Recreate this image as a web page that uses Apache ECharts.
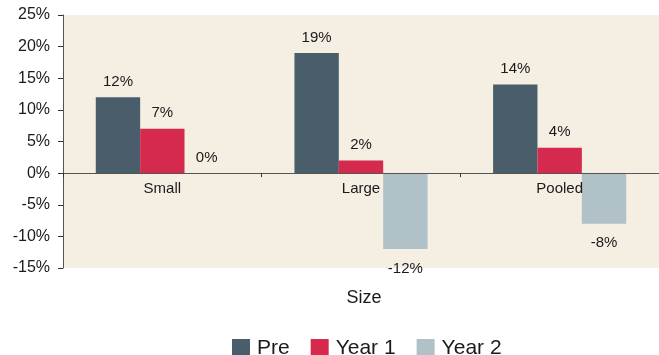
<!DOCTYPE html>
<html>
<head>
<meta charset="utf-8">
<script src="https://cdn.jsdelivr.net/npm/echarts@6/dist/echarts.min.js"></script>
<style>
html, body { margin: 0; padding: 0; background: #ffffff; }
#chart { width: 659px; height: 355px; }
</style>
</head>
<body>
<div id="chart"></div>
<script>
// Percentage change by firm size
const categories = ['Small', 'Large', 'Pooled'];
const seriesNames = ['Pre', 'Year 1', 'Year 2'];
const preValues = [12, 19, 14];
const year1Values = [7, 2, 4];
const year2Values = [0, -12, -8];
const yTicks = [-15, -10, -5, 0, 5, 10, 15, 20, 25];

const colors = ['#4a5d6b', '#d5294e', '#b0c1c8'];
const font = '"Liberation Sans", Arial, Helvetica, sans-serif';

// Plot box in pixels
const gridTop = 15;
const gridBottom = 87;
const plotHeight = 355 - gridTop - gridBottom;
const yMin = yTicks[0];
const yMax = yTicks[yTicks.length - 1];
// Distance from the bottom edge of the plot up to the zero line
const zeroOffset = plotHeight * (0 - yMin) / (yMax - yMin);

// Negative bars carry their value label underneath, others on top
function withLabels(values) {
  return values.map(v => ({
    value: v,
    label: v < 0 ? { position: 'bottom', distance: 12 } : { position: 'top', distance: 8 }
  }));
}

function barSeries(name, values, color) {
  return {
    name: name,
    type: 'bar',
    data: withLabels(values),
    itemStyle: { color: color },
    barGap: '0%',
    barCategoryGap: '33%',
    label: {
      show: true,
      formatter: '{c}%',
      color: '#1a1a1a',
      fontFamily: font,
      fontSize: 15
    }
  };
}

const chart = echarts.init(document.getElementById('chart'), null, { renderer: 'canvas' });
chart.setOption({
  animation: false,
  color: colors,
  grid: {
    left: 63, right: 0, top: gridTop, bottom: gridBottom,
    show: true, backgroundColor: '#f5eee3', borderWidth: 0
  },
  xAxis: {
    type: 'category',
    data: categories,
    position: 'bottom',
    offset: -zeroOffset,
    axisLine: { onZero: false, lineStyle: { color: '#555555', width: 1 } },
    axisTick: { show: true, inside: false, length: 4, lineStyle: { color: '#333333' } },
    axisLabel: { margin: 8, color: '#1a1a1a', fontFamily: font, fontSize: 15 },
    splitLine: { show: false },
    z: 3
  },
  yAxis: {
    type: 'value',
    min: yMin,
    max: yMax,
    interval: 5,
    axisLine: { show: true, lineStyle: { color: '#555555', width: 1 } },
    axisTick: { show: true, length: 5, lineStyle: { color: '#333333' } },
    axisLabel: {
      margin: 13, color: '#1a1a1a', fontFamily: font, fontSize: 16,
      formatter: v => v + '%'
    },
    splitLine: { show: false }
  },
  legend: {
    data: seriesNames,
    top: 333,
    left: 227,
    itemWidth: 18,
    itemHeight: 19,
    itemGap: 21,
    icon: 'rect',
    textStyle: { color: '#1a1a1a', fontFamily: font, fontSize: 21, padding: [0, 0, 0, 2] }
  },
  graphic: [{
    type: 'text',
    x: 364,
    y: 298,
    style: {
      text: 'Size',
      fill: '#1a1a1a',
      font: '18px ' + font,
      textAlign: 'center',
      textVerticalAlign: 'middle'
    }
  }],
  series: [
    barSeries(seriesNames[0], preValues, colors[0]),
    barSeries(seriesNames[1], year1Values, colors[1]),
    barSeries(seriesNames[2], year2Values, colors[2])
  ]
});
</script>
</body>
</html>
